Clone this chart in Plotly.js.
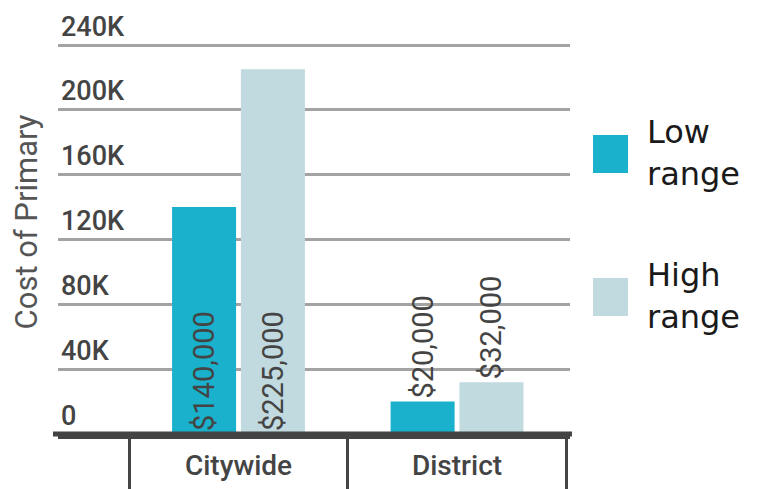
<!DOCTYPE html>
<html>
<head>
<meta charset="utf-8">
<script src="https://cdn.plot.ly/plotly-3.0.1.min.js"></script>
<style>html,body{margin:0;padding:0;background:#fff;}#chart{width:759px;height:489px;}</style>
</head>
<body>
<div id="chart"></div>
<script>
// ---- data ----
var categories = ["Citywide", "District"];
var lowRange = [140000, 20000];
var highRange = [225000, 32000];
var seriesNames = ["Low range", "High range"];
var legendLabels = ["Low<br>range", "High<br>range"];
var yTickVals = [0, 40000, 80000, 120000, 160000, 200000, 240000];
var yTickText = ["0", "40K", "80K", "120K", "160K", "200K", "240K"];
var yTitle = "Cost of Primary";

// ---- styles ----
var colors = ["#1ab1cc", "#c1dadf"];
var W = 759, H = 489;
var M = {l: 58, r: 189, t: 10, b: 55};
var plotW = W - M.l - M.r, plotH = H - M.t - M.b;
function px(x) { return (x - M.l) / plotW; }
function py(y) { return (H - M.b - y) / plotH; }

var barText = {family: "Roboto, sans-serif", size: 29, color: "#444"};
function barTrace(vals, i) {
  return {
    type: "bar", x: categories, y: vals, name: seriesNames[i],
    marker: {color: colors[i]},
    texttemplate: "$%{y:,}",
    textposition: vals.map(function (v) { return v > 100000 ? "inside" : "outside"; }),
    insidetextanchor: "start",
    textangle: -90, constraintext: "none", cliponaxis: false,
    textfont: barText, insidetextfont: barText, outsidetextfont: barText,
    showlegend: false, hoverinfo: "skip"
  };
}
var data = [barTrace(lowRange, 0), barTrace(highRange, 1)];

var shapes = [], annotations = [];
var legendTop = [135, 278];
for (var i = 0; i < seriesNames.length; i++) {
  shapes.push({type: "rect", xref: "paper", yref: "paper",
    x0: px(593), x1: px(628), y0: py(legendTop[i] + 38), y1: py(legendTop[i]),
    fillcolor: colors[i], line: {width: 0}});
  annotations.push({xref: "paper", yref: "paper", x: px(645), y: py(legendTop[i] + 18),
    xanchor: "left", yanchor: "middle", align: "left", showarrow: false,
    text: legendLabels[i],
    font: {family: "DejaVu Sans, sans-serif", size: 32, color: "#1a1a1a"}});
}
// extend the baseline a little beyond the plot area, as in the reference
shapes.push({type: "line", xref: "paper", yref: "paper", x0: px(53), x1: px(572), y0: 0, y1: 0,
  line: {color: "#444", width: 5}, layer: "above"});

var layout = {
  width: W, height: H, margin: M,
  paper_bgcolor: "#fff", plot_bgcolor: "#fff",
  barmode: "group", bargap: 0.37, bargroupgap: 0.07,
  showlegend: false,
  xaxis: {
    type: "category", range: [-0.826, 1.517],
    showline: true, linewidth: 5, linecolor: "#444",
    ticks: "outside", tickson: "boundaries", ticklen: 55, tickwidth: 3, tickcolor: "#444",
    ticklabelstandoff: 2,
    tickfont: {family: "Roboto, sans-serif", size: 28, color: "#444", weight: 500},
    showgrid: false, zeroline: false, fixedrange: true
  },
  yaxis: {
    range: [0, 261600], tickvals: yTickVals, ticktext: yTickText,
    ticklabelposition: "inside top", ticks: "",
    tickfont: {family: "Roboto, sans-serif", size: 27, color: "#444", weight: 500},
    showgrid: true, gridcolor: "#a3a3a3", gridwidth: 3,
    zeroline: false, showline: false, fixedrange: true,
    title: {text: yTitle, standoff: 14,
      font: {family: "Roboto, sans-serif", size: 31, color: "#555", weight: 400}}
  },
  shapes: shapes, annotations: annotations
};

Plotly.newPlot("chart", data, layout, {displayModeBar: false, staticPlot: true});
</script>
</body>
</html>
